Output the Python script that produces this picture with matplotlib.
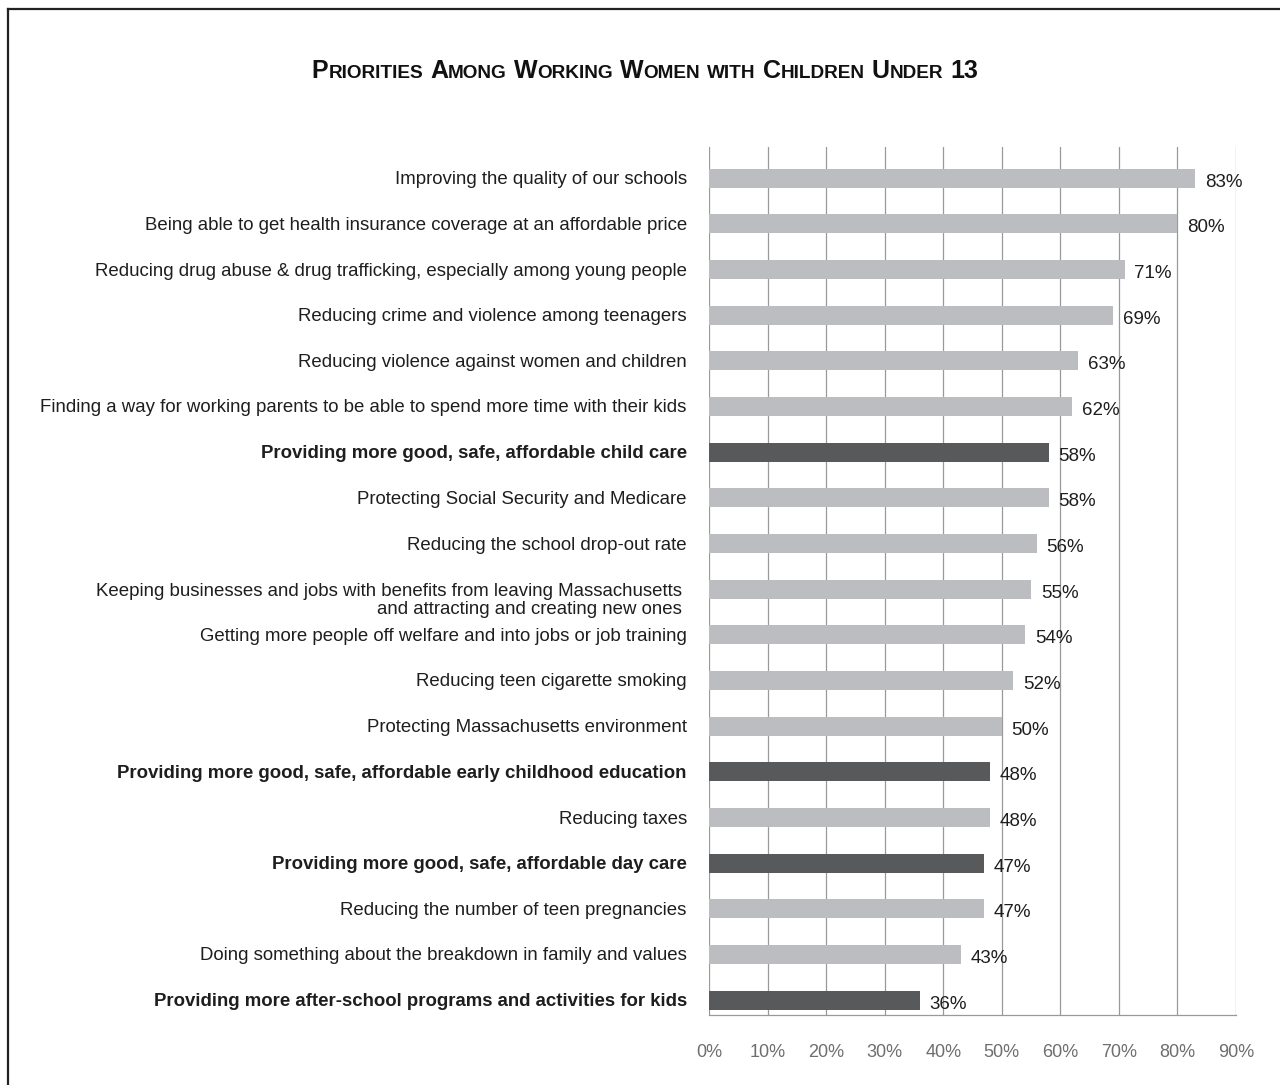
import matplotlib
matplotlib.use("Agg")
import matplotlib.pyplot as plt
from matplotlib.lines import Line2D

plt.rcParams['font.family'] = ['Liberation Sans', 'DejaVu Sans']

categories = [
    "Improving the quality of our schools",
    "Being able to get health insurance coverage at an affordable price",
    "Reducing drug abuse & drug trafficking, especially among young people",
    "Reducing crime and violence among teenagers",
    "Reducing violence against women and children",
    "Finding a way for working parents to be able to spend more time with their kids",
    "Providing more good, safe, affordable child care",
    "Protecting Social Security and Medicare",
    "Reducing the school drop-out rate",
    "Keeping businesses and jobs with benefits from leaving Massachusetts \nand attracting and creating new ones ",
    "Getting more people off welfare and into jobs or job training",
    "Reducing teen cigarette smoking",
    "Protecting Massachusetts environment",
    "Providing more good, safe, affordable early childhood education",
    "Reducing taxes",
    "Providing more good, safe, affordable day care",
    "Reducing the number of teen pregnancies",
    "Doing something about the breakdown in family and values",
    "Providing more after-school programs and activities for kids",
]
values = [83, 80, 71, 69, 63, 62, 58, 58, 56, 55, 54, 52, 50, 48, 48, 47, 47, 43, 36]
highlighted = [False, False, False, False, False, False, True, False, False, False,
               False, False, False, True, False, True, False, False, True]
tick_values = [0, 10, 20, 30, 40, 50, 60, 70, 80, 90]
tick_labels = [f"{t}%" for t in tick_values]
title = "Priorities Among Working Women with Children Under 13"

LIGHT = "#bcbdc0"
DARK = "#58595b"
GRID = "#999999"
TEXT = "#1e1e1e"

W, H = 1280, 1085
fig = plt.figure(figsize=(W / 100, H / 100), dpi=100)
fig.patch.set_facecolor("white")

# frame lines along the left and top of the page
fig.add_artist(Line2D([8 / W, 8 / W], [0, 1 - 9 / H], color="#222222", lw=1.6,
                      transform=fig.transFigure))
fig.add_artist(Line2D([8 / W, 1], [1 - 9 / H, 1 - 9 / H], color="#222222", lw=1.6,
                      transform=fig.transFigure))

ax_l, ax_r = 709 / W, 1236 / W
ax_t, ax_b = 147 / H, 1015 / H
ax = fig.add_axes([ax_l, 1 - ax_b, ax_r - ax_l, ax_b - ax_t])

n = len(categories)
pos = list(range(n))
px_per = (1000 - 178) / (n - 1)
ax.set_ylim(n - 1 + (1015 - 1000) / px_per, -(178 - 147) / px_per)
ax.set_xlim(0, 90)

colors = [DARK if h else LIGHT for h in highlighted]
ax.barh(pos, values, height=19 / px_per, color=colors, zorder=1)

for t in tick_values:
    ax.axvline(t, color=GRID, lw=0.9, zorder=0.5)

for s in ["top", "right", "left"]:
    ax.spines[s].set_visible(False)
ax.spines["bottom"].set_color(GRID)
ax.spines["bottom"].set_linewidth(0.9)

ax.set_xticks(tick_values)
ax.set_xticklabels(tick_labels, color="#6e6e6e", fontsize=13)
ax.tick_params(axis="x", length=0, pad=21)
ax.set_yticks([])

for p, v in zip(pos, values):
    ax.annotate(f"{v}%", xy=(v, p), xytext=(7, -3), textcoords="offset points",
                ha="left", va="center", fontsize=13.5, color=TEXT, zorder=3)

for p, c, h in zip(pos, categories, highlighted):
    dy = -1.2
    if "\n" in c:
        dy = -8
    ax.annotate(c, xy=(0, p), xytext=(-16, dy), textcoords="offset points",
                ha="right", va="center", multialignment="right", fontsize=13.4,
                fontweight="bold" if h else "normal", color=TEXT,
                linespacing=1.08)

# small-caps title built from pieces of two sizes
renderer = fig.canvas.get_renderer()
BIG, SMALL = 18, 13.7
pieces = []
for wi, word in enumerate(title.split(" ")):
    if wi > 0:
        pieces.append((" ", BIG))
    if word.isdigit():
        pieces.append((word, BIG))
        continue
    if word[0].isupper():
        pieces.append((word[0], BIG))
        rest = word[1:]
    else:
        rest = word
    if rest:
        pieces.append((rest.upper(), SMALL))

def text_width(s, size):
    t = fig.text(0, 0, s, fontsize=size, fontweight="bold")
    w = t.get_window_extent(renderer).width
    t.remove()
    return w

widths = []
for s, size in pieces:
    if s == " ":
        widths.append(text_width("I I", size) - text_width("II", size))
    else:
        widths.append(text_width(s, size))
total = sum(widths)
x = 645 - total / 2
base_y = 1 - 78 / H
for (s, size), w in zip(pieces, widths):
    if s != " ":
        fig.text(x / W, base_y, s, fontsize=size, fontweight="bold",
                 va="baseline", ha="left", color="#111111")
    x += w

fig.savefig("out.png", dpi=100, facecolor="white")
